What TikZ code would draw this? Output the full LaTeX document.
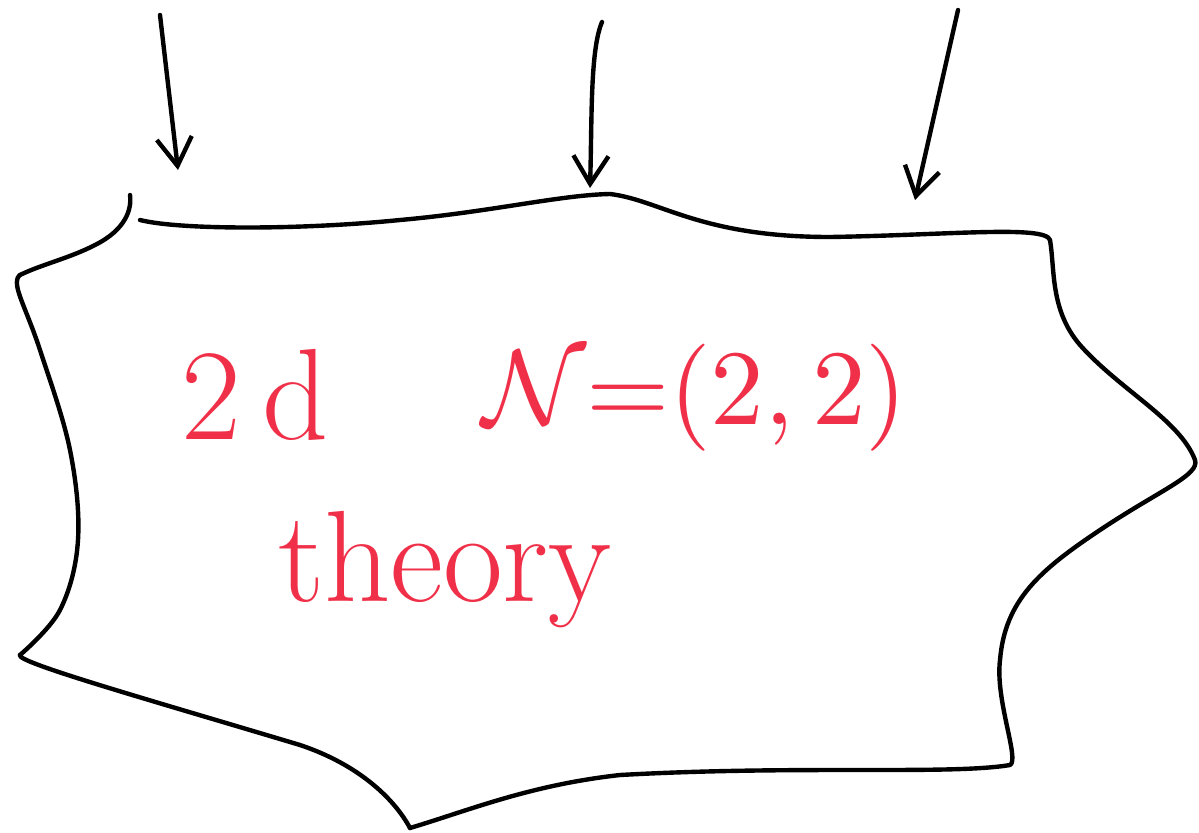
\documentclass[tikz,border=0pt]{standalone}
\usetikzlibrary{arrows.meta}
\definecolor{ink}{HTML}{F03048}
\begin{document}
\begin{tikzpicture}[x=0.02cm,y=-0.02cm,
  stroke/.style={line width=2.5pt,line cap=round,line join=round},
  arr/.style={stroke,-{Straight Barb[length=16pt,width=20pt,line width=2.5pt]}},
  lbl/.style={text=ink,font=\fontsize{74}{80}\selectfont,inner sep=0pt}]
\useasboundingbox (0,0) rectangle (1199,832);
% outline
\draw[stroke] (130,195) .. controls (132,210) and (125,230) .. (95,245) .. controls (70,258) and (40,265) .. (20,275);
\draw[stroke] plot[smooth,tension=0.6] coordinates {(20,275) (18,290) (40,350) (70,450) (78,540) (60,610) (20,655)};
\draw[stroke] (20,655) .. controls (15,662) and (150,700) .. (300,745) .. controls (360,765) and (395,800) .. (410,828);
\draw[stroke] (410,828) .. controls (470,810) and (530,785) .. (620,775) .. controls (800,765) and (950,775) .. (1010,765) .. controls (1020,760) and (995,700) .. (1000,660) .. controls (1005,600) and (1040,570) .. (1100,530) .. controls (1160,490) and (1200,475) .. (1195,460) .. controls (1180,420) and (1120,390) .. (1080,345) .. controls (1050,310) and (1055,270) .. (1050,240) .. controls (1045,225) and (950,235) .. (830,237) .. controls (700,237) and (660,200) .. (610,194) .. controls (560,195) and (490,212) .. (400,220) .. controls (300,230) and (180,230) .. (140,220);
% arrows
\coordinate (a1s) at (160,15); \coordinate (a1e) at (178,170);
\coordinate (a2s) at (602,22); \coordinate (a2e) at (590,188);
\coordinate (a3s) at (958,10); \coordinate (a3e) at (915,200);
\draw[arr] (a1s) -- (a1e);
\draw[arr] (a2s) .. controls (590,50) and (592,120) .. (a2e);
\draw[arr] (a3s) -- (a3e);
% labels
\node[lbl] (t1) at (255,395) {2\,d};
\node[lbl] (t2) at (695,398) {\scalebox{6.1}{\normalsize$\mathcal{N}{=}(2,2)$}};
\node[lbl] (t3) at (445,570) {theory};
\end{tikzpicture}
\end{document}
